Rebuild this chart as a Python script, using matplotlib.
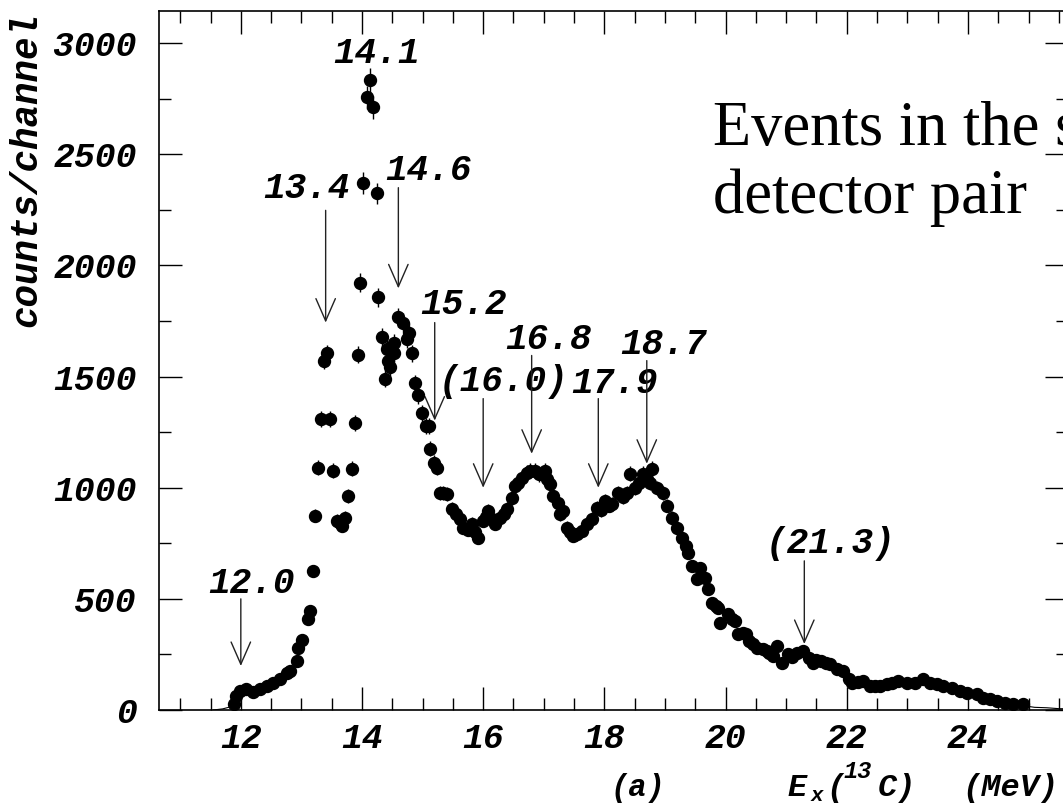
import numpy as np
import matplotlib
matplotlib.use('Agg')
import matplotlib.pyplot as plt

plt.rcParams['font.family'] = 'Liberation Mono'
plt.rcParams['font.style'] = 'italic'
plt.rcParams['font.weight'] = 'bold'

# spectrum
energy = [11.88, 11.92, 11.99, 12.09, 12.20, 12.32, 12.43, 12.53, 12.65, 12.76,
          12.81, 12.93, 12.95, 13.01, 13.11, 13.14, 13.19, 13.23, 13.28, 13.33,
          13.38, 13.43, 13.47, 13.52, 13.59, 13.63, 13.67, 13.72, 13.77, 13.83,
          13.89, 13.93, 13.97, 14.02, 14.08, 14.13, 14.18, 14.25, 14.27, 14.33,
          14.38, 14.42, 14.43, 14.47, 14.52, 14.52, 14.60, 14.68, 14.75, 14.77,
          14.83, 14.88, 14.93, 14.99, 15.05, 15.10, 15.13, 15.18, 15.24, 15.29,
          15.34, 15.40, 15.49, 15.55, 15.62, 15.67, 15.75, 15.82, 15.87, 15.92,
          16.00, 16.04, 16.08, 16.14, 16.20, 16.28, 16.34, 16.40, 16.48, 16.53,
          16.58, 16.64, 16.73, 16.78, 16.86, 16.92, 17.02, 17.06, 17.10, 17.16,
          17.24, 17.27, 17.32, 17.38, 17.44, 17.48, 17.55, 17.63, 17.71, 17.80,
          17.88, 17.95, 18.01, 18.07, 18.13, 18.22, 18.30, 18.37, 18.42, 18.50,
          18.57, 18.64, 18.70, 18.76, 18.79, 18.87, 18.97, 19.04, 19.12, 19.20,
          19.28, 19.34, 19.38, 19.45, 19.53, 19.58, 19.66, 19.71, 19.78, 19.84,
          19.88, 19.91, 20.04, 20.10, 20.16, 20.21, 20.29, 20.33, 20.38, 20.45,
          20.52, 20.61, 20.68, 20.71, 20.78, 20.85, 20.93, 21.03, 21.10, 21.18,
          21.28, 21.37, 21.45, 21.50, 21.57, 21.65, 21.73, 21.84, 21.94, 22.03,
          22.08, 22.18, 22.27, 22.38, 22.46, 22.55, 22.66, 22.75, 22.85, 23.00,
          23.12, 23.26, 23.37, 23.49, 23.59, 23.74, 23.87, 23.98, 24.15, 24.25,
          24.37, 24.48, 24.61, 24.74, 24.91]
counts = [28, 63, 86, 95, 81, 95, 108, 122, 140, 167,
          176, 221, 279, 315, 410, 446, 626, 874, 1090, 1311,
          1572, 1604, 1311, 1077, 851, 840, 829, 865, 964, 1086,
          1293, 1599, 1923, 2370, 2757, 2834, 2712, 2325, 1856, 1676,
          1491, 1626, 1572, 1541, 1649, 1604, 1766, 1743, 1671, 1698,
          1604, 1469, 1415, 1334, 1279, 1279, 1176, 1113, 1090, 978,
          975, 973, 906, 880, 860, 820, 810, 838, 800, 775,
          851, 870, 896, 860, 838, 865, 880, 906, 955, 1009,
          1020, 1045, 1068, 1077, 1077, 1060, 1077, 1040, 1018, 964,
          933, 880, 896, 820, 800, 784, 790, 807, 838, 860,
          910, 900, 941, 920, 928, 978, 960, 978, 1063, 1000,
          1020, 1063, 1040, 1023, 1086, 1000, 978, 919, 865, 820,
          775, 740, 705, 649, 590, 640, 595, 545, 482, 470,
          460, 392, 432, 410, 401, 342, 347, 342, 311, 295,
          279, 275, 266, 257, 243, 288, 212, 252, 240, 257,
          266, 234, 212, 225, 221, 210, 207, 185, 176, 140,
          122, 128, 131, 108, 110, 108, 117, 120, 131, 122,
          122, 140, 122, 117, 108, 99, 86, 77, 72, 54,
          50, 41, 32, 27, 27]

# thin histogram line outside the fitted range
tail_left_x = [11.55, 11.70, 11.80, 11.88]
tail_left_y = [0, 5, 12, 20]
tail_right_x = [24.95, 25.10, 25.30, 25.50, 25.70]
tail_right_y = [18, 12, 10, 6, 5]

# peak labels: text, arrow x, arrow top, arrow tip, text x, text y
peak_text = ['12.0', '13.4', '14.6', '15.2', '(16.0)', '16.8', '17.9', '18.7', '(21.3)']
peak_x = [12.0, 13.4, 14.6, 15.2, 16.0, 16.8, 17.9, 18.7, 21.3]
arrow_top = [500, 2248, 2350, 1743, 1401, 1595, 1401, 1572, 671]
arrow_tip = [198, 1743, 1897, 1302, 1000, 1153, 1000, 1108, 297]
text_x = [11.46, 12.37, 14.38, 14.96, 15.27, 16.36, 17.46, 18.26, 20.66]
text_y = [527, 2302, 2385, 1780, 1437, 1626, 1428, 1603, 707]

fig = plt.figure(figsize=(10.63, 8.08), dpi=100)
ax = fig.add_axes([0.1496, 0.1213, 0.855, 0.8651])

e = np.array(energy)
c = np.array(counts)
ax.errorbar(e, c, yerr=np.sqrt(c), fmt='o', color='black', ms=8.6,
            elinewidth=1, capsize=0, zorder=3)
ax.plot(tail_left_x, tail_left_y, color='black', lw=0.8)
ax.plot(tail_right_x, tail_right_y, color='black', lw=0.8)

for t, px, y0, y1, tx, ty in zip(peak_text, peak_x, arrow_top, arrow_tip, text_x, text_y):
    ax.annotate('', xy=(px, y1), xytext=(px, y0),
                arrowprops=dict(arrowstyle='->,head_length=0.8,head_width=0.35',
                                mutation_scale=20, lw=1, color='#222222',
                                shrinkA=0, shrinkB=0))
    ax.text(tx, ty, t, fontsize=26, ha='left', va='baseline')
ax.text(13.53, 2910, '14.1', fontsize=26, ha='left', va='baseline')

ax.set_xlim(10.65, 25.65)
ax.set_ylim(0, 3145)
ax.set_xticks(np.arange(12, 26, 2))
ax.set_xticks(np.arange(11, 26, 0.5), minor=True)
ax.set_yticks(np.arange(0, 3001, 500))
ax.set_yticks(np.arange(0, 3001, 250), minor=True)
ax.tick_params(which='both', direction='in', top=True, right=True, width=1)
ax.tick_params(which='major', length=16.5, labelsize=25)
ax.tick_params(which='minor', length=8.6)
ax.tick_params(axis='x', pad=9)
ax.tick_params(axis='y', pad=16)
for s in ax.spines.values():
    s.set_linewidth(1.2)

W, H = 1063.0, 808.0
fig.text(26 / W, 1 - 12 / H, 'counts/channel', rotation=90, fontsize=27,
         ha='center', va='top')

# x axis title E_x(13C) (MeV), built piece by piece
fig.text(788 / W, 1 - 796 / H, 'E', fontsize=23, ha='left', va='baseline')
fig.text(811 / W, 1 - 801 / H, 'x', fontsize=15, ha='left', va='baseline')
fig.text(826 / W, 1 - 796 / H, '(', fontsize=23, ha='left', va='baseline')
fig.text(843 / W, 1 - 778 / H, '13', fontsize=17, ha='left', va='baseline')
fig.text(878 / W, 1 - 796 / H, 'C)', fontsize=23, ha='left', va='baseline')
fig.text(1058 / W, 1 - 796 / H, '(MeV)', fontsize=23, ha='right', va='baseline')
fig.text(610 / W, 1 - 796 / H, '(a)', fontsize=22, ha='left', va='baseline')

fig.text(713 / W, 1 - 145 / H, 'Events in the same', family='Liberation Serif',
         style='normal', weight='normal', fontsize=45, ha='left', va='baseline')
fig.text(713 / W, 1 - 213 / H, 'detector pair', family='Liberation Serif',
         style='normal', weight='normal', fontsize=45, ha='left', va='baseline')

fig.savefig('out.png', dpi=100)
